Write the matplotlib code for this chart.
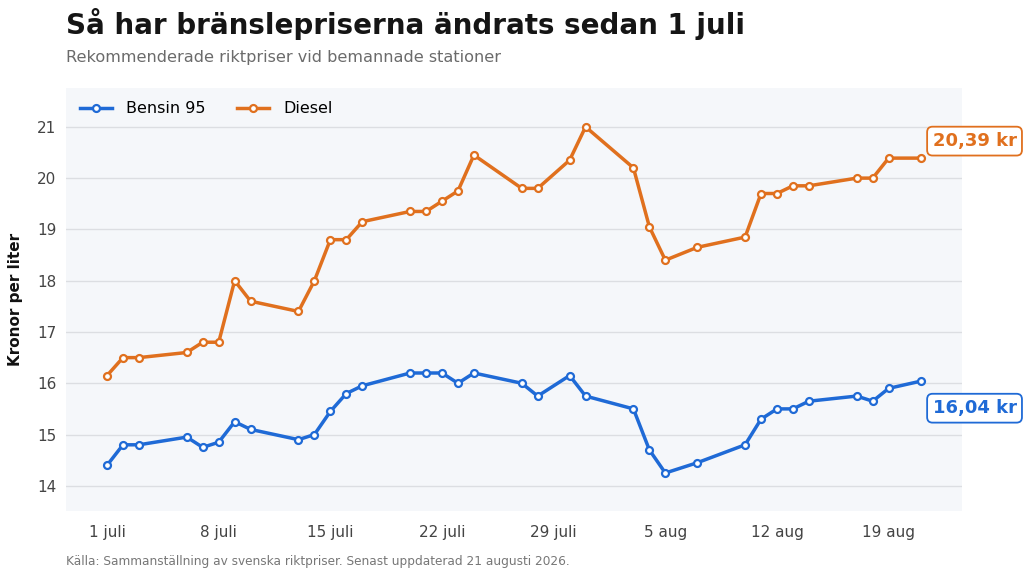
import matplotlib
matplotlib.use("Agg")
import matplotlib.pyplot as plt
import pandas as pd

# Dates with price changes (2026)
dates = pd.to_datetime([
    "2026-07-01", "2026-07-02", "2026-07-03", "2026-07-06", "2026-07-07",
    "2026-07-08", "2026-07-09", "2026-07-10", "2026-07-13", "2026-07-14",
    "2026-07-15", "2026-07-16", "2026-07-17", "2026-07-20", "2026-07-21",
    "2026-07-22", "2026-07-23", "2026-07-24", "2026-07-27", "2026-07-28",
    "2026-07-30", "2026-07-31", "2026-08-03", "2026-08-04", "2026-08-05",
    "2026-08-07", "2026-08-10", "2026-08-11", "2026-08-12", "2026-08-13",
    "2026-08-14", "2026-08-17", "2026-08-18", "2026-08-19", "2026-08-21",
])

bensin = [14.40, 14.80, 14.80, 14.95, 14.75, 14.85, 15.25, 15.10, 14.90, 15.00,
          15.45, 15.80, 15.95, 16.20, 16.20, 16.20, 16.00, 16.20, 16.00, 15.75,
          16.15, 15.75, 15.50, 14.70, 14.25, 14.45, 14.80, 15.30, 15.50, 15.50,
          15.65, 15.75, 15.65, 15.90, 16.04]

diesel = [16.15, 16.50, 16.50, 16.60, 16.80, 16.80, 18.00, 17.60, 17.40, 18.00,
          18.80, 18.80, 19.15, 19.35, 19.35, 19.55, 19.75, 20.45, 19.80, 19.80,
          20.35, 21.00, 20.20, 19.05, 18.40, 18.65, 18.85, 19.70, 19.70, 19.85,
          19.85, 20.00, 20.00, 20.39, 20.39]

tick_dates = pd.to_datetime(["2026-07-01", "2026-07-08", "2026-07-15", "2026-07-22",
                             "2026-07-29", "2026-08-05", "2026-08-12", "2026-08-19"])
tick_labels = ["1 juli", "8 juli", "15 juli", "22 juli", "29 juli", "5 aug", "12 aug", "19 aug"]
y_ticks = [14, 15, 16, 17, 18, 19, 20, 21]

blue = "#1f6ad6"
orange = "#e0701e"

plt.rcParams['font.family'] = ['DejaVu Sans']

fig = plt.figure(figsize=(10.24, 5.78), dpi=100)
ax = fig.add_axes([0.0645, 0.116, 0.8745, 0.732])
ax.set_facecolor("#f5f7fa")

for vals, col, name in [(bensin, blue, "Bensin 95"), (diesel, orange, "Diesel")]:
    ax.plot(dates, vals, color=col, lw=2.5, marker="o", ms=5, mfc="white",
            mec=col, mew=1.6, label=name, zorder=3)

# end labels
ax.annotate("20,39 kr", xy=(dates[-1], diesel[-1]), xytext=(54, 17),
            textcoords="offset pixels", ha="center", va="center",
            fontsize=13, fontweight="bold", color=orange, annotation_clip=False,
            bbox=dict(boxstyle="round,pad=0.3,rounding_size=0.3", fc="white", ec=orange, lw=1.3))
ax.annotate("16,04 kr", xy=(dates[-1], bensin[-1]), xytext=(54, -27),
            textcoords="offset pixels", ha="center", va="center",
            fontsize=13, fontweight="bold", color=blue, annotation_clip=False,
            bbox=dict(boxstyle="round,pad=0.3,rounding_size=0.3", fc="white", ec=blue, lw=1.3))

x0 = pd.Timestamp("2026-07-01")
ax.set_xlim(x0 - pd.Timedelta(days=2.57), x0 + pd.Timedelta(days=53.57))
ax.set_ylim(13.51, 21.76)
ax.set_xticks(tick_dates)
ax.set_xticklabels(tick_labels)
ax.set_yticks(y_ticks)

ax.grid(axis="y", color="#dcdee2", lw=1)
ax.set_axisbelow(True)
for s in ax.spines.values():
    s.set_visible(False)
ax.tick_params(length=0, labelsize=11, labelcolor="#444444")
ax.tick_params(axis="x", pad=10)
ax.tick_params(axis="y", pad=7)

ax.set_ylabel("Kronor per liter", fontsize=11, fontweight="bold", color="#111111", labelpad=10)

leg = ax.legend(loc="upper left", ncol=2, frameon=False, fontsize=11.5,
                handlelength=2.0, handletextpad=0.9, columnspacing=2.0,
                borderaxespad=0.45, bbox_to_anchor=(0.0, 1.0))

fig.text(0.0645, 1 - 8 / 578, "Så har bränslepriserna ändrats sedan 1 juli",
         fontsize=20, fontweight="bold", color="#151515", ha="left", va="top")
fig.text(0.0645, 1 - 50 / 578, "Rekommenderade riktpriser vid bemannade stationer",
         fontsize=11.6, color="#6b6b6b", ha="left", va="top")
fig.text(0.0645, 1 - 562 / 578,
         "Källa: Sammanställning av svenska riktpriser. Senast uppdaterad 21 augusti 2026.",
         fontsize=8.7, color="#777777", ha="left", va="center")

fig.savefig("out.png", dpi=100, facecolor="white")
